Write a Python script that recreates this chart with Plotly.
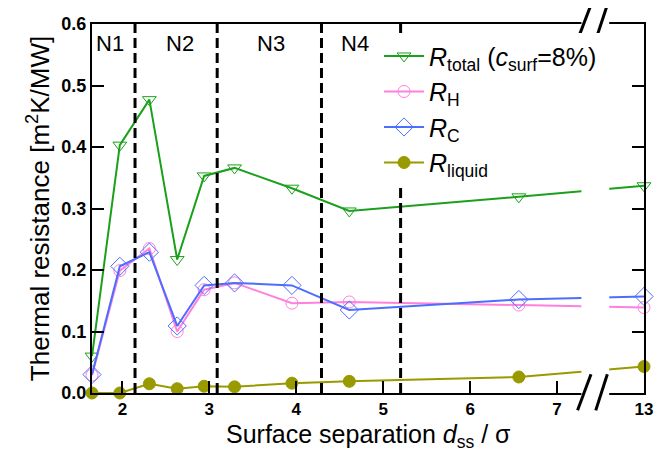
import plotly.graph_objects as go

# ---- data ----
x_sep = [1.65, 1.97, 2.31, 2.63, 2.94, 3.29, 3.95, 4.61, 6.56, 13.0]
r_total = [0.060, 0.403, 0.477, 0.217, 0.353, 0.366, 0.333, 0.296, 0.319, 0.337]
r_h = [0.029, 0.199, 0.235, 0.100, 0.168, 0.179, 0.146, 0.148, 0.143, 0.139]
r_c = [0.030, 0.206, 0.229, 0.109, 0.175, 0.179, 0.175, 0.135, 0.152, 0.157]
r_liquid = [0.000, 0.000, 0.015, 0.007, 0.011, 0.010, 0.016, 0.019, 0.026, 0.043]

region_bounds = [2.145, 3.09, 4.29, 5.20]
region_labels = ["N1", "N2", "N3", "N4"]
region_label_x = [1.86, 2.66, 3.71, 4.68]

tick_vals = [2, 3, 4, 5, 6, 7, 13]
y_ticks = [0.0, 0.1, 0.2, 0.3, 0.4, 0.5, 0.6]

x_title = "Surface separation <i>d</i><sub>ss</sub> / σ"
y_title = "Thermal resistance [m<sup>2</sup>K/MW]"

# broken axis: values beyond the break are shifted left by this amount
BREAK_AT = 7.5
BREAK_SHIFT = 5.0


def xmap(v):
    return v if v <= BREAK_AT else v - BREAK_SHIFT


xp = [xmap(v) for v in x_sep]

FONT = "Liberation Sans, Arial, sans-serif"

fig = go.Figure()
series = [
    (r_total, "<i>R</i><sub>total</sub> (<i>c</i><sub>surf</sub>=8%)", "#1aa01a",
     "triangle-down-open", 12),
    (r_h, "<i>R</i><sub>H</sub>", "#ff80dd", "circle-open", 12),
    (r_c, "<i>R</i><sub>C</sub>", "#4d6dff", "diamond-open", 14),
    (r_liquid, "<i>R</i><sub>liquid</sub>", "#999900", "circle", 12),
]
for ys, name, col, sym, sz in series:
    fig.add_trace(go.Scatter(
        x=xp, y=ys, name=name, mode="lines+markers",
        line=dict(color=col, width=2),
        marker=dict(symbol=sym, size=sz, color=col, line=dict(color=col, width=1)),
        cliponaxis=False,
    ))

shapes = []
for b in region_bounds:
    shapes.append(dict(type="line", xref="x", yref="paper", x0=b, x1=b, y0=0, y1=1,
                       line=dict(color="black", width=3, dash="10px,5px"), layer="above"))
# white gap for the axis break
shapes.append(dict(type="rect", xref="x", yref="paper", x0=7.28, x1=7.6, y0=-0.02, y1=1.02,
                   fillcolor="white", line=dict(width=0), layer="above"))
# break marks
for (x0, x1) in [(7.236, 7.39), (7.445, 7.578)]:
    shapes.append(dict(type="line", xref="x", yref="paper", x0=x0, x1=x1, y0=-0.047, y1=0.051,
                       line=dict(color="black", width=3), layer="above"))
    shapes.append(dict(type="line", xref="x", yref="paper", x0=x0, x1=x1, y0=0.957, y1=1.052,
                       line=dict(color="black", width=3), layer="above"))

annotations = [dict(x=lx, y=0.569, xref="x", yref="y", text=t, showarrow=False,
                    font=dict(size=22, family=FONT, color="black"))
               for lx, t in zip(region_label_x, region_labels)]
annotations.append(dict(x=0.5, y=-0.117, xref="paper", yref="paper", text=x_title,
                        showarrow=False, xanchor="center", yanchor="middle",
                        font=dict(size=25, family=FONT, color="black")))

# the page body adds an 8px offset, margins compensate for it
fig.update_layout(
    width=662, height=452,
    margin=dict(l=84, r=26, t=16, b=67, autoexpand=False),
    paper_bgcolor="white", plot_bgcolor="white",
    font=dict(family=FONT, color="black"),
    shapes=shapes, annotations=annotations,
    legend=dict(x=0.52, y=0.975, xanchor="left", yanchor="top",
                font=dict(size=25, family=FONT), bgcolor="white",
                tracegroupgap=0, itemwidth=40),
    xaxis=dict(range=[1.65, 8.0], tickvals=[xmap(v) for v in tick_vals],
               ticktext=[str(v) for v in tick_vals],
               ticks="inside", ticklen=12, tickwidth=2, tickcolor="black",
               showline=True, linecolor="black", linewidth=2, mirror=True,
               showgrid=False, zeroline=False, automargin=False,
               tickfont=dict(size=17, family=FONT, weight="bold")),
    yaxis=dict(range=[0, 0.6], tickvals=y_ticks, tickformat=".1f",
               ticks="inside", ticklen=12, tickwidth=2, tickcolor="black",
               showline=True, linecolor="black", linewidth=2, mirror="ticks",
               showgrid=False, zeroline=False, automargin=False,
               tickfont=dict(size=18, family=FONT, weight="bold"),
               title=dict(text=y_title, font=dict(size=26, family=FONT), standoff=4)),
)

fig.write_html("out.html")
